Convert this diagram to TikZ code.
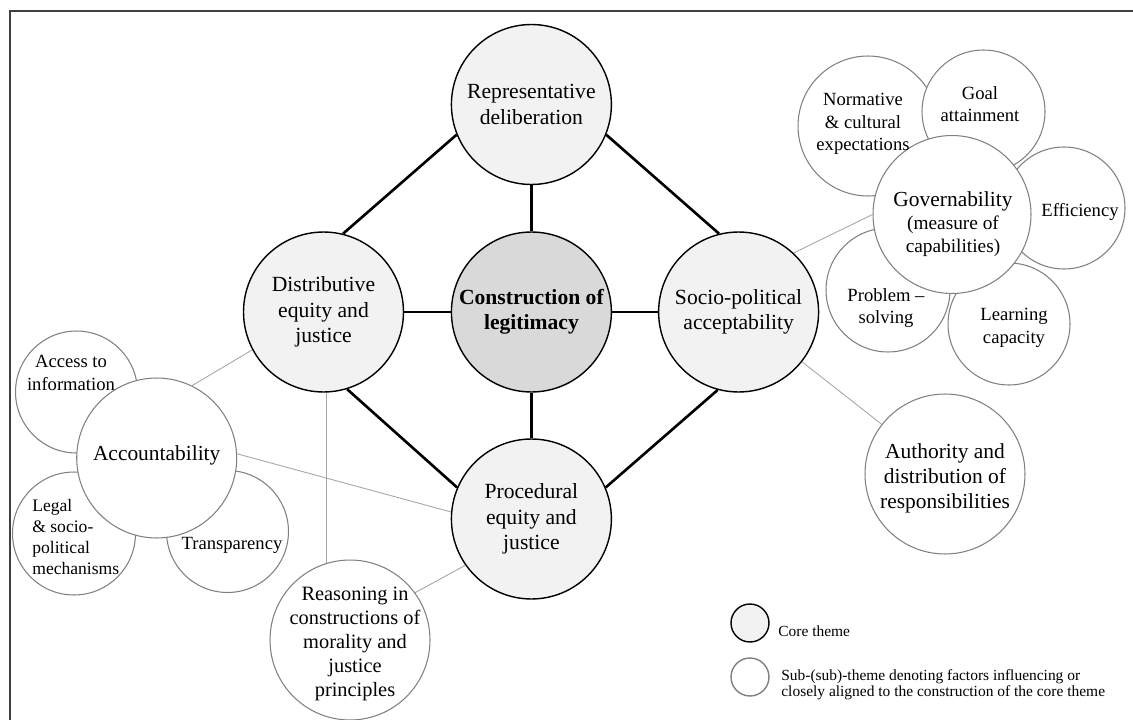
\documentclass[tikz,border=0pt]{standalone}
\usepackage{fontspec}
\setmainfont{Liberation Serif}
\usetikzlibrary{backgrounds}
\begin{document}
\begin{tikzpicture}[x=0.02cm,y=-0.02cm,
  corecirc/.style={circle,draw=black,line width=0.8pt,fill=gray!10,inner sep=0pt,minimum size=3.2cm,align=center,font=\fontsize{12.3}{14.5}\selectfont},
  subcirc/.style={circle,draw=black!50,line width=0.6pt,fill=white,inner sep=0pt,minimum size=#1},
  lbl/.style={align=center,inner sep=0pt,font=\fontsize{10.6}{12.8}\selectfont},
  biglbl/.style={align=center,inner sep=0pt,font=\fontsize{12.2}{14.2}\selectfont},
  corelink/.style={line width=1.5pt,black},
  sublink/.style={line width=0.5pt,black!35},
  legtxt/.style={inner sep=0pt,align=left,font=\fontsize{8.8}{8.9}\selectfont}
]
\useasboundingbox (0,0) rectangle (1133,720);
\draw[line width=1pt,black!75] (10,720) -- (10,11) -- (1133,11);

% core circles
\node[corecirc] (rep) at (531.4,104.5) {Representative\\deliberation};
\node[corecirc,fill=gray!30] (legit) at (531.4,312) {\bfseries Construction of\\\bfseries legitimacy};
\node[corecirc] (dist) at (323.5,312) {Distributive\\equity and\\justice};
\node[corecirc] (socio) at (738.6,312) {Socio-political\\acceptability};
\node[corecirc] (proc) at (531.4,519) {Procedural\\equity and\\justice};

% governability cluster
\node[subcirc=2.8cm] (norm) at (868,126) {};
\node[subcirc=2.46cm] (goal) at (983.5,111.5) {};
\node[subcirc=2.44cm] (eff) at (1064,208) {};
\node[subcirc=2.44cm] (learn) at (1009,324) {};
\node[subcirc=2.48cm] (prob) at (888,290) {};
\node[subcirc=3.16cm] (gov) at (952,214.5) {};

% accountability cluster
\node[subcirc=2.44cm] (access) at (76.5,392) {};
\node[subcirc=2.46cm] (legal) at (74,533.5) {};
\node[subcirc=2.44cm] (transp) at (227.5,531.5) {};
\node[subcirc=3.2cm] (acc) at (156.7,458) {};

\node[subcirc=3.2cm] (reason) at (350,640) {};
\node[subcirc=3.2cm] (auth) at (945,474) {};

% labels
\node[lbl] (normtxt) at (863,124) {Normative\\\& cultural\\expectations};
\node[lbl] (goaltxt) at (980,104) {Goal\\attainment};
\node[lbl] (efftxt) at (1080,212) {Efficiency};
\node[lbl] (probtxt) at (886,308) {Problem --\\solving};
\node[lbl] (learntxt) at (1014,328) {Learning\\capacity};
\node[lbl,font=\fontsize{11}{13}\selectfont] (govtxt) at (953,224) {{\fontsize{12.2}{13}\selectfont Governability}\\(measure of\\capabilities)};
\node[lbl] (accesstxt) at (71,373) {Access to\\information};
\node[biglbl] (acctxt) at (156.7,455) {Accountability};
\node[lbl,align=left,anchor=west,font=\fontsize{10}{11.9}\selectfont] (legaltxt) at (32,537) {Legal\\\& socio-\\political\\mechanisms};
\node[lbl] (transptxt) at (232,545) {Transparency};
\node[lbl,font=\fontsize{11.6}{13.6}\selectfont] (reasontxt) at (355,644) {Reasoning in\\constructions of\\morality and\\justice\\principles};
\node[biglbl] (authtxt) at (945,478) {Authority and\\distribution of\\responsibilities};

% legend
\node[circle,draw=black,line width=0.8pt,fill=gray!10,inner sep=0pt,minimum size=0.76cm] (lgcore) at (750,623) {};
\node[legtxt,anchor=base west] (lgcoretxt) at (778,636) {Core theme};
\node[subcirc=0.76cm,line width=0.8pt] (lgsub) at (750,677) {};
\node[legtxt,anchor=west] (lgsubtxt) at (781,685) {Sub-(sub)-theme denoting factors influencing or\\closely aligned to the construction of the core theme};

\begin{scope}[on background layer]
  \draw[corelink] (legit) -- (rep);
  \draw[corelink] (legit) -- (dist);
  \draw[corelink] (legit) -- (socio);
  \draw[corelink] (legit) -- (proc);
  \draw[corelink] (rep.202) -- (dist.76);
  \draw[corelink] (rep.-22) -- (socio.104);
  \draw[corelink] (dist.-73) -- (proc.157);
  \draw[corelink] (socio.-105) -- (proc.23);
  \draw[sublink] (socio.47) -- (gov.180);
  \draw[sublink] (socio) -- (auth);
  \draw[sublink] (dist.208) -- (acc.64);
  \draw[sublink] (acc.3) -- (proc.175);
  \draw[sublink] (dist.-88) -- (dist.-88 |- reason.center);
  \draw[sublink] (reason.36) -- (proc.215);
\end{scope}
\end{tikzpicture}
\end{document}
